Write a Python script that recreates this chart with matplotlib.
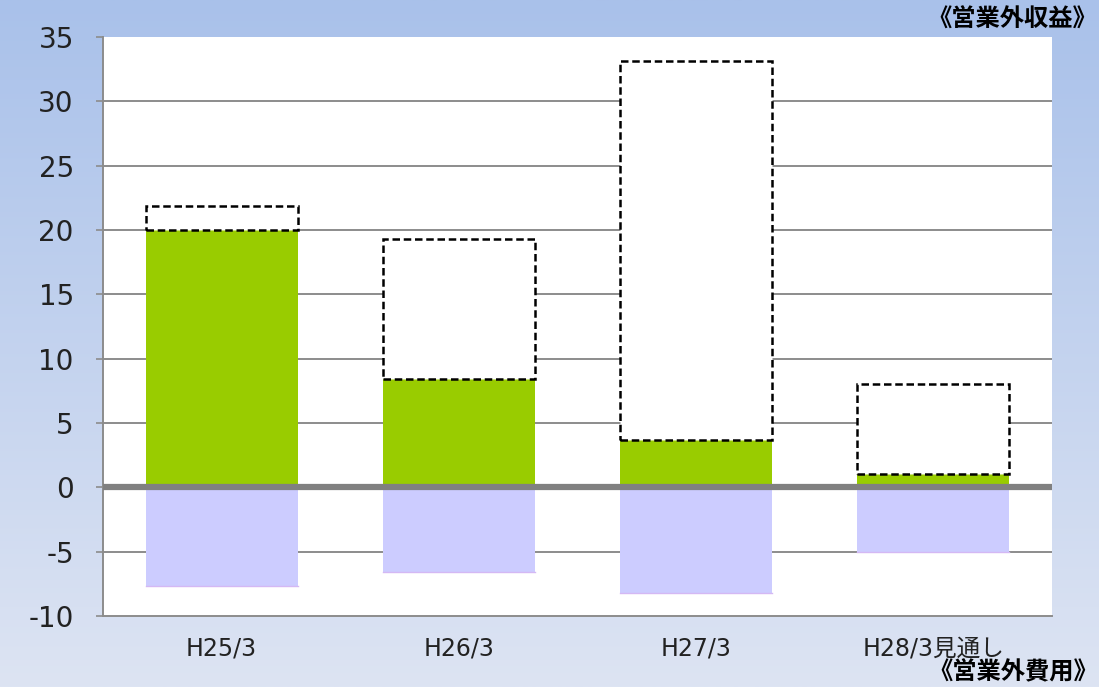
import numpy as np
import matplotlib
matplotlib.use("Agg")
import matplotlib.pyplot as plt

plt.rcParams['font.family'] = ['DejaVu Sans', 'Noto Sans CJK JP']

categories = ["H25/3", "H26/3", "H27/3", "H28/3見通し"]
income_actual = [20.0, 8.4, 3.7, 1.0]
income_other = [1.9, 10.9, 29.4, 7.0]
expenses = [-7.7, -6.6, -8.2, -5.0]
yticks = [-10, -5, 0, 5, 10, 15, 20, 25, 30, 35]

fig = plt.figure(figsize=(10.99, 6.87), dpi=100)

# background gradient
bg = fig.add_axes([0, 0, 1, 1], zorder=-10)
top = np.array([169, 193, 234]) / 255
bot = np.array([221, 228, 243]) / 255
t = np.linspace(0, 1, 256)[:, None]
grad = top[None, :] * (1 - t) + bot[None, :] * t
bg.imshow(grad[:, None, :], aspect='auto', extent=[0, 1, 0, 1])
bg.axis('off')

ax = fig.add_axes([103/1099, 1 - 616/687, (1052-103)/1099, (616-37)/687])
ax.set_facecolor('white')
x = np.arange(len(categories))
w = 0.64

ax.bar(x, income_actual, width=w, color='#99CC00', zorder=3)
ax.bar(x, income_other, width=w, bottom=income_actual, facecolor='white',
       edgecolor='black', linestyle=(0, (3, 1.5)), linewidth=1.8, zorder=4)
bars = ax.bar(x, expenses, width=w, color='#CCCCFF', linewidth=0, zorder=3)
for b in bars:
    ax.plot([b.get_x(), b.get_x() + b.get_width()], [b.get_height()] * 2,
            color='#D4B8F4', linewidth=1.0, zorder=3.5)

ax.set_ylim(-10, 35)
ax.set_xlim(-0.5, len(categories) - 0.5)
ax.set_yticks(yticks)
ax.set_yticklabels([str(v) for v in yticks], fontsize=20, color='#222222')
for v in yticks:
    if v in (-10, 35, 0):
        continue
    ax.axhline(v, color='#8c8c8c', linewidth=1.4, zorder=1)
ax.axhline(0, color='#808080', linewidth=4.5, zorder=5)

ax.set_xticks(x)
ax.set_xticklabels(categories, fontsize=17, color='#222222')
ax.tick_params(axis='x', length=0, pad=15)
ax.tick_params(axis='y', length=5, width=1.2, color='#8c8c8c', pad=16)

for s in ['top', 'right']:
    ax.spines[s].set_visible(False)
for s in ['left', 'bottom']:
    ax.spines[s].set_color('#8c8c8c')
    ax.spines[s].set_linewidth(1.4)

fig.text(1097/1099, 1 - 20/687, "《営業外収益》", ha='right', va='center',
         fontsize=17.5, fontweight='bold', color='black', family='Noto Sans CJK JP')
fig.text(1098/1099, 1 - 672/687, "《営業外費用》", ha='right', va='center',
         fontsize=17.5, fontweight='bold', color='black', family='Noto Sans CJK JP')

fig.savefig("out.png", dpi=100)
